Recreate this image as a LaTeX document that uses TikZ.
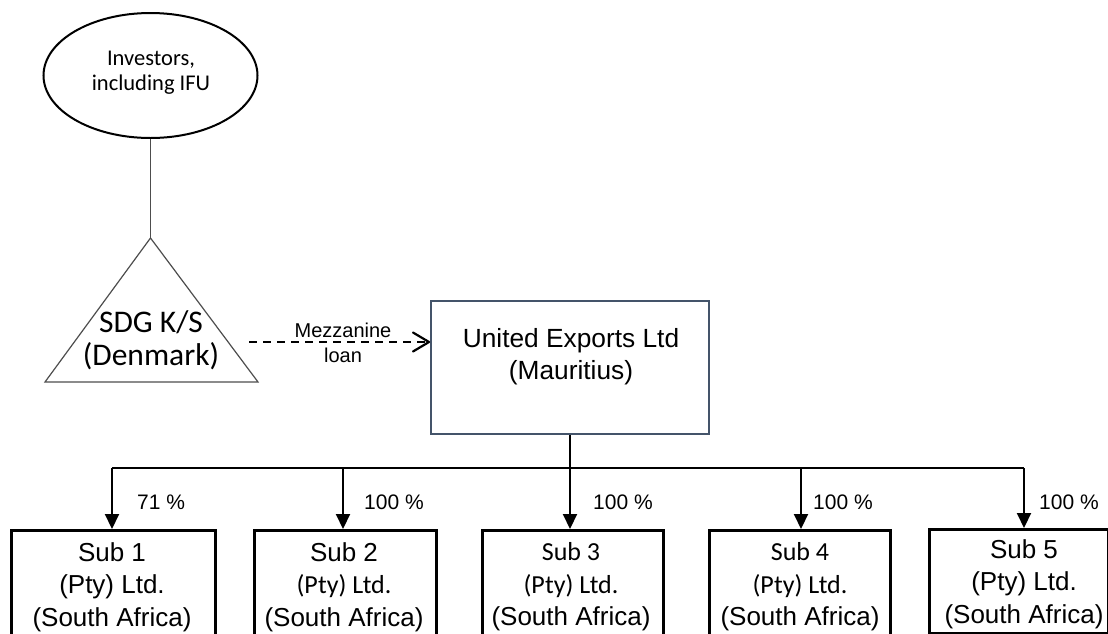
\documentclass[tikz,border=0pt]{standalone}
\usepackage{fontspec}
\setmainfont{Liberation Sans}
\newfontfamily\calfont{Carlito}
\usetikzlibrary{arrows.meta,shapes.geometric,calc}
\definecolor{uecol}{HTML}{44546A}
\definecolor{grayline}{HTML}{4D4D4D}
\begin{document}
\begin{tikzpicture}[x=1pt,y=-1pt,
  subbox/.style={draw=black,line width=2.5pt,inner sep=0pt,anchor=north west},
  subtext/.style={align=center,font=\fontsize{26}{32.5}\selectfont,inner sep=0pt},
  pct/.style={font=\fontsize{21}{24}\selectfont,anchor=west,inner sep=0pt,text depth=0pt},
  busline/.style={line width=2pt},
  downarrow/.style={line width=2pt,-{Triangle[length=15pt,width=14pt]}},
  grayconn/.style={draw=grayline,line width=1.3pt},
  loanline/.style={line width=2pt,dash pattern=on 8pt off 6pt},
  chevron/.style={line width=2.2pt,line join=round,line cap=round}]
\path[use as bounding box,clip] (0,0) rectangle (1108,633);

% investors ellipse
\node[draw,ellipse,line width=2pt,minimum width=214pt,minimum height=125pt,inner sep=0pt] (inv) at (150.5,75.5) {};
\node[align=center,font=\calfont\fontsize{22.5}{25}\selectfont,inner sep=0pt] (invt) at (151,72.6) {Investors,\\including IFU};

% SDG triangle
\coordinate (apex) at (150.5,238);
\coordinate (bl) at (45,382);
\coordinate (br) at (258,382);
\draw[grayconn,line width=1.2pt,line join=miter] (apex) -- (bl) -- (br) -- cycle;
\node[align=center,font=\calfont\fontsize{31.5}{33}\selectfont,inner sep=0pt] (sdg) at (151,340.5) {SDG K/S\\(Denmark)};
\draw[grayconn] (inv.south) -- (apex);

% United Exports
\node[draw=uecol,line width=2pt,minimum width=278pt,minimum height=133pt,inner sep=0pt] (ue) at (570,367.5) {};
\node[align=center,font=\fontsize{26.3}{32}\selectfont,inner sep=0pt] (uet) at (571,356.5) {United Exports Ltd\\(Mauritius)};

% mezzanine loan
\coordinate (ds) at (249,342);
\coordinate (tip) at ($(ds -| ue.west)+(-1,0)$);
\draw[loanline] (ds) -- (tip);
\draw[chevron] ($(tip)+(-16,-9.5)$) -- (tip) -- ($(tip)+(-16,9.5)$);
\node[align=center,font=\fontsize{20}{25}\selectfont,inner sep=0pt] (mz) at (343,343) {Mezzanine\\loan};

% subsidiaries
\node[subbox,minimum width=204pt,minimum height=130pt] (s1) at (10,529) {};
\node[subbox,minimum width=182pt,minimum height=130pt] (s2) at (253,529) {};
\node[subbox,minimum width=181pt,minimum height=130pt] (s3) at (481,529) {};
\node[subbox,minimum width=181pt,minimum height=130pt] (s4) at (708,529) {};
\node[subbox,minimum width=179pt,minimum height=104pt] (s5) at (928,528) {};

\node[subtext] (t1) at (112,587) {Sub 1\\(Pty) Ltd.\\(South Africa)};
\node[subtext] (t2) at (344,587) {Sub 2\\\calfont (Pty) Ltd.\\(South Africa)};
\node[subtext] (t3) at (571,587) {\calfont Sub 3\\\calfont (Pty) Ltd.\\(South Africa)};
\node[subtext] (t4) at (800,587) {\calfont Sub 4\\\calfont (Pty) Ltd.\\(South Africa)};
\node[subtext] (t5) at (1024,584) {Sub 5\\(Pty) Ltd.\\(South Africa)};

% bus and arrows
\coordinate (busL) at (112,468);
\coordinate (busR) at (1024,468);
\draw[busline] (busL) -- (busR);
\draw[downarrow] (busL) -- (busL |- s1.north);
\draw[downarrow] (343,468) -- (343,529);
\draw[downarrow] (ue.south) -- (ue.south |- s3.north);
\draw[downarrow] (801,468) -- (801,529);
\draw[downarrow] (busR) -- (busR |- s5.north);

% percentages
\node[pct] (p1) at (137,502) {71 \%};
\node[pct] (p2) at (364,502) {100 \%};
\node[pct] (p3) at (593,502) {100 \%};
\node[pct] (p4) at (813,502) {100 \%};
\node[pct] (p5) at (1039,502) {100 \%};
\end{tikzpicture}
\end{document}
